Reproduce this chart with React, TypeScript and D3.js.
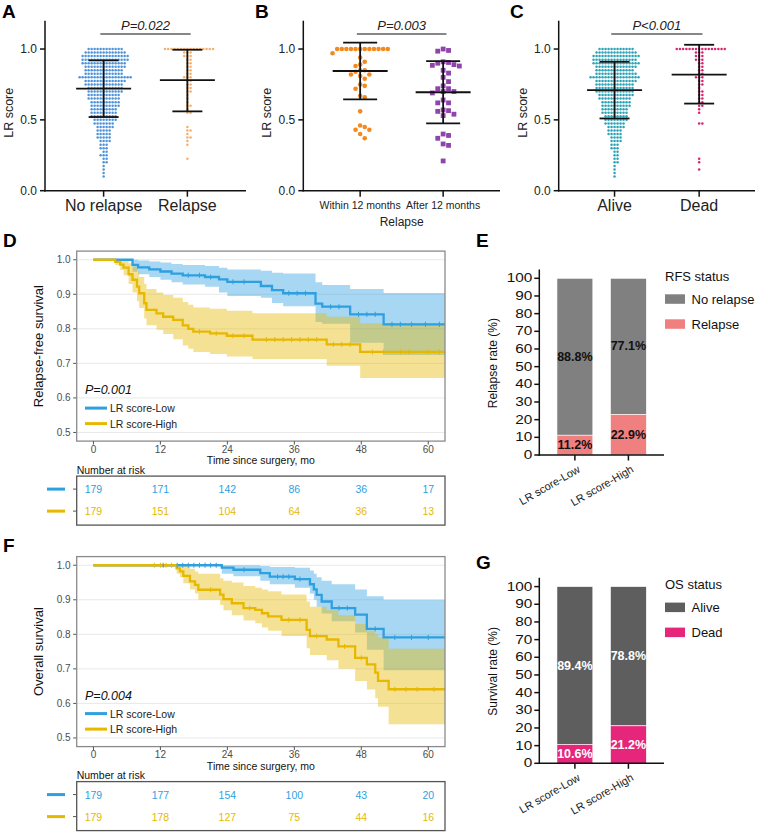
import React from "react";
import * as d3 from "d3";

const FONT = "'Liberation Sans', Arial, Helvetica, sans-serif";

// ---------------- Panels A & C: LR score rows (score level -> number of patients) ----------------
const scoreLevels = [1.0, 0.975, 0.95, 0.925, 0.9, 0.875, 0.85, 0.825, 0.8, 0.775, 0.75, 0.725, 0.7, 0.675, 0.65, 0.625, 0.6, 0.575, 0.55, 0.525, 0.5, 0.475, 0.45, 0.425, 0.4, 0.375, 0.35, 0.325, 0.3, 0.275, 0.25, 0.225, 0.2, 0.175, 0.15, 0.125, 0.1];
const noRelapseCounts = [12, 14, 16, 16, 15, 14, 13, 13, 18, 14, 13, 12, 12, 11, 11, 10, 10, 9, 9, 9, 8, 7, 6, 5, 5, 5, 4, 3, 3, 2, 3, 2, 2, 1, 1, 1, 1];
const relapseCounts = [16, 3, 3, 2, 2, 2, 2, 2, 3, 2, 2, 2, 2, 1, 1, 1, 2, 1, 2, 0, 0, 0, 1, 2, 1, 2, 1, 1, 0, 0, 0, 1, 0, 0, 0, 0, 0];
const aliveCounts = [12, 14, 16, 15, 16, 14, 13, 14, 17, 14, 13, 13, 13, 12, 11, 10, 10, 9, 9, 8, 8, 7, 6, 5, 5, 4, 4, 3, 3, 2, 2, 2, 2, 1, 1, 1, 1];
const deadCounts = [16, 3, 3, 3, 2, 2, 2, 2, 3, 2, 2, 1, 2, 2, 2, 2, 2, 1, 1, 0, 0, 2, 0, 0, 0, 0, 0, 0, 0, 0, 0, 1, 1, 0, 1, 0, 0];

// ---------------- Panel B: relapse timing ----------------
const within12Values = [1, 1, 1, 1, 1, 1, 1, 1, 1, 1, 1, 1, 0.97, 0.94, 0.91, 0.89, 0.88, 0.85, 0.85, 0.84, 0.82, 0.82, 0.81, 0.79, 0.75, 0.74, 0.72, 0.67, 0.66, 0.56, 0.46, 0.45, 0.43, 0.43, 0.4, 0.37];
const after12Values = [1.0, 0.99, 0.985, 0.91, 0.905, 0.9, 0.89, 0.885, 0.88, 0.85, 0.83, 0.8, 0.77, 0.74, 0.72, 0.72, 0.7, 0.7, 0.69, 0.64, 0.62, 0.62, 0.57, 0.565, 0.56, 0.54, 0.53, 0.4, 0.39, 0.37, 0.33, 0.32, 0.21];

// mean, mean-SD, mean+SD
const statsNoRelapse = [0.72, 0.52, 0.92];
const statsRelapse = [0.78, 0.56, 0.995];
const statsWithin12 = [0.845, 0.645, 1.045];
const statsAfter12 = [0.695, 0.475, 0.915];
const statsAlive = [0.71, 0.51, 0.91];
const statsDead = [0.82, 0.615, 1.03];
const scoreTicks = [0, 0.5, 1.0];

// ---------------- Panels D & F: Kaplan–Meier ----------------
const kmTimeTicks = [0, 12, 24, 36, 48, 60];
const kmSurvTicks = [0.5, 0.6, 0.7, 0.8, 0.9, 1.0];

const rfsLowTimes = [0, 7, 8, 10, 12, 14, 16, 20, 22.5, 24, 30, 32, 34, 39.8, 41, 46, 52];
const rfsLowSurv = [1, 0.985, 0.978, 0.972, 0.966, 0.96, 0.955, 0.95, 0.943, 0.936, 0.924, 0.912, 0.903, 0.873, 0.864, 0.842, 0.813];
const rfsLowUpper = [1, 1, 0.998, 0.995, 0.992, 0.988, 0.985, 0.982, 0.977, 0.972, 0.968, 0.962, 0.96, 0.935, 0.927, 0.915, 0.904];
const rfsLowLower = [1, 0.965, 0.958, 0.95, 0.942, 0.935, 0.928, 0.922, 0.905, 0.895, 0.89, 0.875, 0.865, 0.82, 0.815, 0.76, 0.724];
const rfsLowCensor = [17, 19, 21, 25, 27, 35, 36.5, 38, 42.5, 44, 47.5, 49, 50.5, 53.5, 55, 57, 59.5, 62];

const rfsHighTimes = [0, 3.9, 4.8, 5.4, 6.3, 7.0, 7.8, 8.2, 9.1, 9.5, 11.3, 12.5, 14.3, 16, 17, 17.9, 20.9, 23.9, 28.5, 41.8, 47.8];
const rfsHighSurv = [1, 0.994, 0.986, 0.977, 0.958, 0.942, 0.922, 0.903, 0.874, 0.855, 0.845, 0.835, 0.826, 0.81, 0.8, 0.792, 0.787, 0.78, 0.769, 0.755, 0.733];
const rfsHighUpper = [1, 1, 1, 0.998, 0.99, 0.98, 0.965, 0.95, 0.93, 0.915, 0.905, 0.898, 0.89, 0.878, 0.87, 0.862, 0.858, 0.852, 0.845, 0.835, 0.816];
const rfsHighLower = [1, 0.985, 0.97, 0.955, 0.93, 0.905, 0.88, 0.86, 0.83, 0.81, 0.797, 0.785, 0.77, 0.752, 0.742, 0.733, 0.727, 0.72, 0.713, 0.693, 0.658];
const rfsHighCensor = [19, 22, 25, 27, 31, 32.5, 34, 35.5, 37, 38.5, 40, 43, 44.5, 46, 50, 52, 55, 56.5, 60, 62];

const osLowTimes = [0, 23, 25.1, 29.9, 31.6, 36.1, 38.8, 39.5, 40, 40.9, 42.7, 46.9, 49, 52];
const osLowSurv = [1, 0.993, 0.987, 0.977, 0.967, 0.96, 0.945, 0.93, 0.914, 0.895, 0.876, 0.857, 0.816, 0.791];
const osLowUpper = [1, 1, 1, 0.998, 0.995, 0.993, 0.985, 0.975, 0.965, 0.955, 0.945, 0.93, 0.91, 0.9];
const osLowLower = [1, 0.975, 0.968, 0.955, 0.945, 0.935, 0.918, 0.9, 0.88, 0.86, 0.838, 0.805, 0.755, 0.696];
const osLowCensor = [12.5, 15, 16, 17, 18, 19, 20, 21, 22, 27, 33, 34, 35, 37, 44, 45.5, 50.5, 54, 57, 60];

const osHighTimes = [0, 14.9, 15.5, 16.1, 17.3, 18.2, 18.8, 22.7, 23.3, 24.8, 26.9, 29, 30.2, 31.3, 33.7, 38.2, 38.8, 41.8, 43.9, 46.9, 49, 50.5, 51, 52.9];
const osHighSurv = [1, 0.991, 0.982, 0.969, 0.953, 0.943, 0.929, 0.915, 0.902, 0.89, 0.876, 0.871, 0.861, 0.852, 0.842, 0.813, 0.795, 0.785, 0.765, 0.732, 0.713, 0.689, 0.665, 0.641];
const osHighUpper = [1, 1, 1, 0.998, 0.99, 0.982, 0.975, 0.962, 0.955, 0.95, 0.94, 0.935, 0.93, 0.925, 0.915, 0.895, 0.88, 0.87, 0.855, 0.83, 0.81, 0.8, 0.79, 0.758];
const osHighLower = [1, 0.975, 0.965, 0.948, 0.93, 0.918, 0.9, 0.885, 0.87, 0.855, 0.84, 0.832, 0.82, 0.81, 0.795, 0.76, 0.74, 0.725, 0.7, 0.665, 0.64, 0.615, 0.59, 0.54];
const osHighCensor = [10.9, 12, 13, 14, 21, 28, 35, 37, 40, 45, 48, 54, 56, 58, 61];

const rfsRiskLow = [179, 171, 142, 86, 36, 17];
const rfsRiskHigh = [179, 151, 104, 64, 36, 13];
const osRiskLow = [179, 177, 154, 100, 43, 20];
const osRiskHigh = [179, 178, 127, 75, 44, 16];

// ---------------- Panels E & G: stacked percentages ----------------
const scoreGroups = ["LR score-Low", "LR score-High"];
const relapsePct = [11.2, 22.9];
const noRelapsePct = [88.8, 77.1];
const deadPct = [10.6, 21.2];
const alivePct = [89.4, 78.8];
const pctTicks = [0, 10, 20, 30, 40, 50, 60, 70, 80, 90, 100];

const BLUE = "#2E9FDF";
const GOLD = "#E7B800";

function expandRows(levels: number[], counts: number[]) {
  const out: number[] = [];
  levels.forEach((v, i) => {
    for (let k = 0; k < counts[i]; k++) out.push(v);
  });
  return out;
}

function swarm(values: number[], y: (v: number) => number, cx: number, d: number) {
  const placed: { x: number; y: number }[] = [];
  const sorted = [...values].sort((a, b) => b - a);
  for (const v of sorted) {
    const py = y(v);
    let k = 0;
    for (;;) {
      const step = Math.ceil(k / 2);
      const off = k === 0 ? 0 : (k % 2 === 1 ? step : -step) * d;
      const px = cx + off;
      const hit = placed.some((p) => (p.x - px) ** 2 + (p.y - py) ** 2 < d * d - 0.01);
      if (!hit) {
        placed.push({ x: px, y: py });
        break;
      }
      k++;
    }
  }
  return placed;
}

type Group = {
  name: string;
  values: number[];
  color: string;
  shape: "circle" | "square";
  r: number;
  spacing: number;
  stats: number[];
  capHalf: number;
};

function DotPanel(props: {
  letter: string;
  letterX: number;
  axisX: number;
  axisEnd: number;
  padding: number;
  groups: Group[];
  catFont: number;
  catY: number;
  pText: string;
  xTitle?: string;
}) {
  const { letter, letterX, axisX, axisEnd, padding, groups, catFont, catY, pText, xTitle } = props;
  const y = d3.scaleLinear().domain([0, 1.2]).range([190.7, 20.7]);
  const x = d3.scalePoint<string>().domain(groups.map((g) => g.name)).range([axisX, axisEnd]).padding(padding);
  const c0 = x(groups[0].name) as number;
  const c1 = x(groups[1].name) as number;
  return (
    <g>
      <text x={letterX} y={18} fontSize={19} fontWeight="bold">{letter}</text>
      {groups.map((g) => {
        const cx = x(g.name) as number;
        const pts = swarm(g.values, (v) => y(v), cx, g.spacing);
        const [m, lo, hi] = g.stats;
        return (
          <g key={g.name}>
            {pts.map((p, i) =>
              g.shape === "square" ? (
                <rect key={i} x={p.x - g.r} y={p.y - g.r} width={2 * g.r} height={2 * g.r} fill={g.color} />
              ) : (
                <circle key={i} cx={p.x} cy={p.y} r={g.r} fill={g.color} />
              )
            )}
            <g stroke="#111" strokeWidth={1.8}>
              <line x1={cx} x2={cx} y1={y(lo)} y2={y(hi)} />
              <line x1={cx - g.capHalf} x2={cx + g.capHalf} y1={y(lo)} y2={y(lo)} />
              <line x1={cx - g.capHalf} x2={cx + g.capHalf} y1={y(hi)} y2={y(hi)} />
              <line x1={cx - 27.5} x2={cx + 27.5} y1={y(m)} y2={y(m)} />
            </g>
          </g>
        );
      })}
      {/* axes */}
      <line x1={axisX} x2={axisX} y1={y(1.2)} y2={y(0) + 0.75} stroke="#111" strokeWidth={1.5} />
      <line x1={axisX - 0.75} x2={axisEnd} y1={y(0)} y2={y(0)} stroke="#111" strokeWidth={1.5} />
      {scoreTicks.map((t) => (
        <g key={t}>
          <line x1={axisX - 5} x2={axisX} y1={y(t)} y2={y(t)} stroke="#111" strokeWidth={1.5} />
          <text x={axisX - 8} y={y(t)} fontSize={12} textAnchor="end" dominantBaseline="central" fill="#222">
            {t.toFixed(1)}
          </text>
        </g>
      ))}
      {groups.map((g) => (
        <g key={"t" + g.name}>
          <line x1={x(g.name)} x2={x(g.name)} y1={y(0)} y2={y(0) + 6} stroke="#111" strokeWidth={1.5} />
          <text x={x(g.name)} y={catY} fontSize={catFont} textAnchor="middle" fill="#222">{g.name}</text>
        </g>
      ))}
      <text transform={`translate(${axisX - 36},${y(0.55)}) rotate(-90)`} fontSize={12.5} textAnchor="middle" dominantBaseline="central" fill="#222">
        LR score
      </text>
      {xTitle && (
        <text x={(axisX + axisEnd) / 2} y={226} fontSize={12} textAnchor="middle" fill="#222">{xTitle}</text>
      )}
      <line x1={c0 - 3.3} x2={c1 + 3.3} y1={34} y2={34} stroke="#111" strokeWidth={1.2} />
      <text x={(c0 + c1) / 2} y={29.5} fontSize={13} fontStyle="italic" textAnchor="middle" fill="#222">{pText}</text>
    </g>
  );
}

type Series = {
  times: number[];
  surv: number[];
  upper: number[];
  lower: number[];
  censor: number[];
  color: string;
  label: string;
  risk: number[];
};

function stepValue(times: number[], vals: number[], t: number) {
  let v = vals[0];
  times.forEach((tt, i) => {
    if (tt <= t) v = vals[i];
  });
  return v;
}

function KMPanel(props: { letter: string; top: number; yTitle: string; pText: string; series: Series[] }) {
  const { letter, top, yTitle, pText, series } = props;
  const left = 76.7;
  const right = 445;
  const bottom = top + 190;
  const x = d3.scaleLinear().domain([-3, 63]).range([left, right]);
  const y = d3.scaleLinear().domain([0.475, 1.025]).range([bottom, top]);
  const endT = 63;
  const line = d3
    .line<number[]>()
    .x((d) => x(d[0]))
    .y((d) => y(d[1]))
    .curve(d3.curveStepAfter);
  const band = d3
    .area<number[]>()
    .x((d) => x(d[0]))
    .y0((d) => y(d[2]))
    .y1((d) => y(d[1]))
    .curve(d3.curveStepAfter);
  const clipId = "clip" + letter;
  const rowY = [bottom + 48, bottom + 70];
  return (
    <g>
      <defs>
        <clipPath id={clipId}>
          <rect x={left} y={top} width={right - left} height={bottom - top} />
        </clipPath>
      </defs>
      <text x={3} y={top - 4.5} fontSize={19} fontWeight="bold">{letter}</text>
      {kmSurvTicks.map((t) => (
        <g key={t}>
          <line x1={left} x2={right} y1={y(t)} y2={y(t)} stroke="#e8e8e8" strokeWidth={1} />
          <line x1={left - 3.5} x2={left} y1={y(t)} y2={y(t)} stroke="#555" strokeWidth={1} />
          <text x={left - 6} y={y(t)} fontSize={10} textAnchor="end" dominantBaseline="central" fill="#4d4d4d">
            {t.toFixed(1)}
          </text>
        </g>
      ))}
      <g clipPath={`url(#${clipId})`}>
        {series.map((s) => {
          const pts = s.times.map((t, i) => [t, s.upper[i], s.lower[i]]);
          pts.push([endT, s.upper[s.upper.length - 1], s.lower[s.lower.length - 1]]);
          return <path key={"b" + s.label} d={band(pts) || ""} fill={s.color} fillOpacity={0.42} />;
        })}
        {series.map((s) => {
          const pts = s.times.map((t, i) => [t, s.surv[i]]);
          pts.push([endT, s.surv[s.surv.length - 1]]);
          return <path key={"l" + s.label} d={line(pts) || ""} fill="none" stroke={s.color} strokeWidth={2.3} />;
        })}
        {series.map((s) =>
          s.censor.map((t, i) => {
            const v = stepValue(s.times, s.surv, t);
            return <line key={s.label + i} x1={x(t)} x2={x(t)} y1={y(v) - 2.5} y2={y(v) + 2.5} stroke={s.color} strokeWidth={1} />;
          })
        )}
      </g>
      <rect x={left} y={top} width={right - left} height={bottom - top} fill="none" stroke="#8a8a8a" strokeWidth={1.3} />
      {kmTimeTicks.map((t) => (
        <g key={t}>
          <line x1={x(t)} x2={x(t)} y1={bottom} y2={bottom + 3.5} stroke="#555" strokeWidth={1} />
          <text x={x(t)} y={bottom + 8} fontSize={10} textAnchor="middle" dominantBaseline="central" fill="#4d4d4d">{t}</text>
        </g>
      ))}
      <text x={(left + right) / 2} y={bottom + 19} fontSize={10.5} textAnchor="middle" dominantBaseline="central" fill="#111">
        Time since surgery, mo
      </text>
      <text transform={`translate(38,${(top + bottom) / 2}) rotate(-90)`} fontSize={13} textAnchor="middle" dominantBaseline="central" fill="#111">
        {yTitle}
      </text>
      {/* inside legend */}
      <text x={85} y={bottom - 51} fontSize={12.5} fontStyle="italic" dominantBaseline="central" fill="#111">{pText}</text>
      {series.map((s, i) => (
        <g key={"lg" + s.label}>
          <line x1={85} x2={107} y1={bottom - 33 + i * 15.5} y2={bottom - 33 + i * 15.5} stroke={s.color} strokeWidth={3} />
          <text x={110} y={bottom - 33 + i * 15.5} fontSize={10.5} dominantBaseline="central" fill="#222">{s.label}</text>
        </g>
      ))}
      {/* risk table */}
      <text x={left} y={bottom + 28.5} fontSize={10.5} dominantBaseline="central" fill="#111">Number at risk</text>
      <rect x={left} y={bottom + 35} width={right - left} height={49} fill="none" stroke="#555" strokeWidth={1.3} />
      {series.map((s, i) => (
        <g key={"r" + s.label}>
          <line x1={47} x2={65} y1={rowY[i]} y2={rowY[i]} stroke={s.color} strokeWidth={3} />
          <line x1={73} x2={left} y1={rowY[i]} y2={rowY[i]} stroke="#555" strokeWidth={1} />
          {s.risk.map((n, j) => (
            <text key={j} x={x(kmTimeTicks[j])} y={rowY[i]} fontSize={10.5} textAnchor="middle" dominantBaseline="central" fill={s.color}>
              {n}
            </text>
          ))}
        </g>
      ))}
    </g>
  );
}

function BarPanel(props: {
  letter: string;
  letterY: number;
  zeroY: number;
  yTitle: string;
  legendTitle: string;
  legendNames: string[];
  bottomVals: number[];
  topVals: number[];
  colors: string[];
  labelColor: string;
}) {
  const { letter, letterY, zeroY, yTitle, legendTitle, legendNames, bottomVals, topVals, colors, labelColor } = props;
  const axisX = 539.3;
  const y = d3.scaleLinear().domain([0, 100]).range([zeroY, zeroY - 176.7]);
  const x = d3.scaleBand<string>().domain(scoreGroups).range([axisX, 664]).paddingInner(0.33).paddingOuter(0.33);
  const bw = x.bandwidth();
  const y100 = y(100);
  return (
    <g>
      <text x={476} y={letterY} fontSize={19} fontWeight="bold">{letter}</text>
      {scoreGroups.map((g, i) => {
        const x0 = x(g) as number;
        const b = bottomVals[i];
        const t = topVals[i];
        return (
          <g key={g}>
            <rect x={x0} y={y(100)} width={bw} height={y(b) - y(100)} fill={colors[0]} stroke="#fff" strokeWidth={0.6} />
            <rect x={x0} y={y(b)} width={bw} height={y(0) - y(b)} fill={colors[1]} stroke="#fff" strokeWidth={0.6} />
            <text x={x0 + bw / 2} y={y(b + t / 2)} fontSize={12.5} fontWeight="bold" textAnchor="middle" dominantBaseline="central" fill={labelColor}>
              {t.toFixed(1)}%
            </text>
            <text x={x0 + bw / 2} y={y(b / 2)} fontSize={12.5} fontWeight="bold" textAnchor="middle" dominantBaseline="central" fill={labelColor}>
              {b.toFixed(1)}%
            </text>
            <line x1={x0 + bw / 2} x2={x0 + bw / 2} y1={zeroY} y2={zeroY + 5.5} stroke="#111" strokeWidth={1.5} />
            <text transform={`translate(${x0 + bw / 2 + 4},${zeroY + 13}) rotate(-30)`} fontSize={11} textAnchor="end" dominantBaseline="central" fill="#222">
              {g}
            </text>
          </g>
        );
      })}
      <line x1={axisX} x2={axisX} y1={y(105)} y2={zeroY + 0.75} stroke="#111" strokeWidth={1.5} />
      <line x1={axisX - 0.75} x2={664} y1={zeroY} y2={zeroY} stroke="#111" strokeWidth={1.5} />
      {pctTicks.map((t) => (
        <g key={t}>
          <line x1={axisX - 5} x2={axisX} y1={y(t)} y2={y(t)} stroke="#111" strokeWidth={1.5} />
          <text transform={`translate(${axisX - 7},${y(t)}) scale(1.28,1)`} fontSize={12} textAnchor="end" dominantBaseline="central" fill="#111">
            {t}
          </text>
        </g>
      ))}
      <text transform={`translate(493,${y(52)}) rotate(-90)`} fontSize={12} textAnchor="middle" dominantBaseline="central" fill="#111">
        {yTitle}
      </text>
      <text x={665} y={y100 - 2} fontSize={13} dominantBaseline="central" fill="#111">{legendTitle}</text>
      {legendNames.map((n, i) => (
        <g key={n}>
          <rect x={665} y={y100 + 16 + i * 25} width={20} height={9.5} fill={colors[i]} />
          <text x={691.5} y={y100 + 21 + i * 25} fontSize={13} dominantBaseline="central" fill="#111">{n}</text>
        </g>
      ))}
    </g>
  );
}

export default function App() {
  const groupsA: Group[] = [
    { name: "No relapse", values: expandRows(scoreLevels, noRelapseCounts), color: "#4F93DA", shape: "circle", r: 1.25, spacing: 3.0, stats: statsNoRelapse, capHalf: 15 },
    { name: "Relapse", values: expandRows(scoreLevels, relapseCounts), color: "#F4AE6E", shape: "circle", r: 1.25, spacing: 3.2, stats: statsRelapse, capHalf: 15 },
  ];
  const groupsB: Group[] = [
    { name: "Within 12 months", values: within12Values, color: "#F28A1E", shape: "circle", r: 2.3, spacing: 4.6, stats: statsWithin12, capHalf: 17 },
    { name: "After 12 months", values: after12Values, color: "#8E44A8", shape: "square", r: 2.4, spacing: 5.4, stats: statsAfter12, capHalf: 17 },
  ];
  const groupsC: Group[] = [
    { name: "Alive", values: expandRows(scoreLevels, aliveCounts), color: "#2BA3B6", shape: "circle", r: 1.25, spacing: 3.0, stats: statsAlive, capHalf: 15 },
    { name: "Dead", values: expandRows(scoreLevels, deadCounts), color: "#D6246E", shape: "circle", r: 1.25, spacing: 3.2, stats: statsDead, capHalf: 15 },
  ];
  const rfsSeries: Series[] = [
    { times: rfsLowTimes, surv: rfsLowSurv, upper: rfsLowUpper, lower: rfsLowLower, censor: rfsLowCensor, color: BLUE, label: "LR score-Low", risk: rfsRiskLow },
    { times: rfsHighTimes, surv: rfsHighSurv, upper: rfsHighUpper, lower: rfsHighLower, censor: rfsHighCensor, color: GOLD, label: "LR score-High", risk: rfsRiskHigh },
  ];
  const osSeries: Series[] = [
    { times: osLowTimes, surv: osLowSurv, upper: osLowUpper, lower: osLowLower, censor: osLowCensor, color: BLUE, label: "LR score-Low", risk: osRiskLow },
    { times: osHighTimes, surv: osHighSurv, upper: osHighUpper, lower: osHighLower, censor: osHighCensor, color: GOLD, label: "LR score-High", risk: osRiskHigh },
  ];
  return (
    <svg width={757} height={834} style={{ position: "absolute", left: 0, top: 0 }} fontFamily={FONT}>
      <rect width={757} height={834} fill="#fff" />
      <DotPanel letter="A" letterX={2} axisX={45} axisEnd={246} padding={0.7} groups={groupsA} catFont={16} catY={211} pText="P=0.022" />
      <DotPanel letter="B" letterX={255} axisX={303.3} axisEnd={500} padding={0.685} groups={groupsB} catFont={10.5} catY={208.5} pText="P=0.003" xTitle="Relapse" />
      <DotPanel letter="C" letterX={510} axisX={558.7} axisEnd={755} padding={0.66} groups={groupsC} catFont={16} catY={211} pText="P<0.001" />
      <KMPanel letter="D" top={251.1} yTitle="Relapse-free survival" pText="P=0.001" series={rfsSeries} />
      <KMPanel letter="F" top={556.6} yTitle="Overall survival" pText="P=0.004" series={osSeries} />
      <BarPanel letter="E" letterY={246.7} zeroY={455} yTitle="Relapse rate (%)" legendTitle="RFS status" legendNames={["No relapse", "Relapse"]} bottomVals={relapsePct} topVals={noRelapsePct} colors={["#808080", "#F08080"]} labelColor="#111" />
      <BarPanel letter="G" letterY={569} zeroY={763.3} yTitle="Survival rate (%)" legendTitle="OS status" legendNames={["Alive", "Dead"]} bottomVals={deadPct} topVals={alivePct} colors={["#5E5E5E", "#E5267A"]} labelColor="#fff" />
    </svg>
  );
}
